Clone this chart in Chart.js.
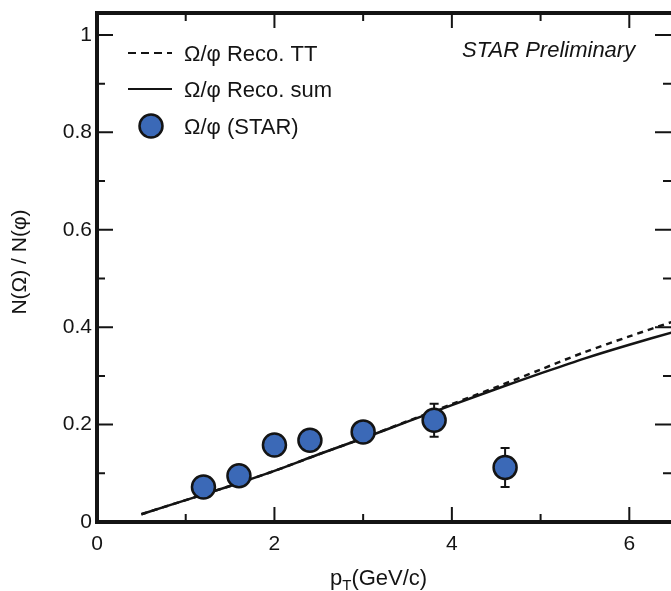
<!DOCTYPE html>
<html>
<head>
<meta charset="utf-8">
<script src="https://cdn.jsdelivr.net/npm/chart.js@4/dist/chart.umd.min.js"></script>
<style>
html,body{margin:0;padding:0;background:#fff;}
#wrap{width:671px;height:591px;}
</style>
</head>
<body>
<div id="wrap"><canvas id="c" width="671" height="591"></canvas></div>
<script>
// ---- data ----
const curveX = [0.5, 1, 1.5, 2, 2.5, 3, 3.5, 4, 4.5, 5, 5.5, 6, 6.5];
const recoSum = [0.016, 0.045, 0.074, 0.105, 0.139, 0.172, 0.206, 0.240, 0.273, 0.305, 0.336, 0.364, 0.390];
const recoTT  = [0.016, 0.045, 0.074, 0.105, 0.139, 0.172, 0.207, 0.242, 0.277, 0.313, 0.349, 0.381, 0.412];
const starX   = [1.2, 1.6, 2.0, 2.4, 3.0, 3.8, 4.6];
const starY   = [0.072, 0.095, 0.158, 0.168, 0.185, 0.209, 0.112];
const starErr = [0.006, 0.006, 0.008, 0.008, 0.008, 0.034, 0.040];
const xTickLabels = [0, 2, 4, 6];
const xMinorTicks = [1, 3, 5];
const yTickLabels = [0, 0.2, 0.4, 0.6, 0.8, 1];
const yMinorTicks = [0.1, 0.3, 0.5, 0.7, 0.9];
const legendLabels = ['\u03A9/\u03C6 Reco. TT', '\u03A9/\u03C6 Reco. sum', '\u03A9/\u03C6 (STAR)'];

const FONT = "'Liberation Sans', Arial, Helvetica, sans-serif";
const BLUE = '#3b69b7';
const INK = '#141414';

const toXY = (xs, ys) => xs.map((x, i) => ({x: x, y: ys[i]}));

const framePlugin = {
  id: 'frame',
  beforeDatasetDraw(chart, args) {
    if (args.index !== 2) return;
    const ctx = chart.ctx, xs = chart.scales.x, ys = chart.scales.y;
    ctx.save();
    ctx.strokeStyle = INK; ctx.lineWidth = 2;
    starX.forEach((x, i) => {
      const px = xs.getPixelForValue(x);
      const t = ys.getPixelForValue(starY[i] + starErr[i]);
      const b = ys.getPixelForValue(starY[i] - starErr[i]);
      ctx.beginPath();
      ctx.moveTo(px, t); ctx.lineTo(px, b);
      ctx.moveTo(px - 4.5, t); ctx.lineTo(px + 4.5, t);
      ctx.moveTo(px - 4.5, b); ctx.lineTo(px + 4.5, b);
      ctx.stroke();
    });
    ctx.restore();
  },
  afterDraw(chart) {
    const ctx = chart.ctx, a = chart.chartArea, xs = chart.scales.x, ys = chart.scales.y;
    ctx.save();
    // frame
    ctx.strokeStyle = INK; ctx.lineWidth = 4;
    ctx.beginPath();
    ctx.moveTo(a.left, a.top); ctx.lineTo(a.right + 3, a.top);
    ctx.moveTo(a.left, a.bottom); ctx.lineTo(a.right + 3, a.bottom);
    ctx.moveTo(a.left, a.top - 2); ctx.lineTo(a.left, a.bottom + 2);
    ctx.moveTo(a.right + 2, a.top - 2); ctx.lineTo(a.right + 2, a.bottom + 2);
    ctx.stroke();
    // inward ticks
    ctx.lineWidth = 2;
    ctx.beginPath();
    const xt = (v, len) => {
      const p = xs.getPixelForValue(v);
      ctx.moveTo(p, a.bottom); ctx.lineTo(p, a.bottom - len);
      ctx.moveTo(p, a.top); ctx.lineTo(p, a.top + len);
    };
    const yt = (v, len) => {
      const p = ys.getPixelForValue(v);
      ctx.moveTo(a.left, p); ctx.lineTo(a.left + len, p);
      ctx.moveTo(a.right, p); ctx.lineTo(a.right - len, p);
    };
    xTickLabels.forEach(v => xt(v, 15));
    xMinorTicks.forEach(v => xt(v, 8));
    yTickLabels.forEach(v => yt(v, 16));
    yMinorTicks.forEach(v => yt(v, 8));
    ctx.stroke();

    // legend
    ctx.fillStyle = INK;
    ctx.font = '22px ' + FONT;
    ctx.textBaseline = 'alphabetic';
    ctx.textAlign = 'left';
    ctx.strokeStyle = INK; ctx.lineWidth = 2;
    ctx.setLineDash([8, 5]);
    ctx.beginPath(); ctx.moveTo(128, 53); ctx.lineTo(172, 53); ctx.stroke();
    ctx.setLineDash([]);
    ctx.beginPath(); ctx.moveTo(128, 89); ctx.lineTo(172, 89); ctx.stroke();
    ctx.lineWidth = 2.5;
    ctx.beginPath(); ctx.arc(151, 126, 11.5, 0, Math.PI * 2);
    ctx.fillStyle = BLUE; ctx.fill(); ctx.stroke();
    ctx.fillStyle = INK;
    ctx.fillText(legendLabels[0], 184, 61);
    ctx.fillText(legendLabels[1], 184, 97);
    ctx.fillText(legendLabels[2], 184, 134);
    ctx.font = 'italic 22px ' + FONT;
    ctx.fillText('STAR Preliminary', 462, 57);

    // x title with subscript
    ctx.font = '22px ' + FONT;
    let x0 = 330; const by = 585;
    ctx.fillText('p', x0, by);
    x0 += ctx.measureText('p').width;
    ctx.font = '15px ' + FONT;
    ctx.fillText('T', x0, by + 5);
    x0 += ctx.measureText('T').width;
    ctx.font = '22px ' + FONT;
    ctx.fillText('(GeV/c)', x0, by);

    // y title
    ctx.save();
    ctx.translate(20, 262);
    ctx.rotate(-Math.PI / 2);
    ctx.font = '21px ' + FONT;
    ctx.textAlign = 'center';
    ctx.textBaseline = 'middle';
    ctx.fillText('N(\u03A9) / N(\u03C6)', 0, 0);
    ctx.restore();
    ctx.restore();
  }
};

new Chart(document.getElementById('c'), {
  type: 'scatter',
  data: {
    datasets: [
      {
        label: legendLabels[0], data: toXY(curveX, recoTT), showLine: true,
        borderColor: INK, borderWidth: 2.5, borderDash: [6, 5], pointRadius: 0,
        tension: 0.3, order: 3
      },
      {
        label: legendLabels[1], data: toXY(curveX, recoSum), showLine: true,
        borderColor: INK, borderWidth: 2.5, pointRadius: 0, tension: 0.3, order: 2
      },
      {
        label: legendLabels[2], data: toXY(starX, starY), showLine: false,
        pointRadius: 11.5, pointBackgroundColor: BLUE, pointBorderColor: INK,
        pointBorderWidth: 2.5, order: 1
      }
    ]
  },
  options: {
    responsive: false,
    devicePixelRatio: 1,
    animation: false,
    layout: {autoPadding: false, padding: {top: 13, right: 0, left: 0, bottom: 0}},
    plugins: {legend: {display: false}, tooltip: {enabled: false}},
    scales: {
      x: {
        type: 'linear', min: 0, max: 6.47,
        afterFit(s) { s.height = 69; s.paddingLeft = 0; s.paddingRight = 0; },
        afterBuildTicks(s) { s.ticks = xTickLabels.map(v => ({value: v})); },
        grid: {display: false, drawTicks: false},
        border: {display: false},
        ticks: {
          padding: 10, color: INK, maxRotation: 0,
          font: {family: FONT, size: 21},
          callback: v => String(v)
        }
      },
      y: {
        type: 'linear', min: 0, max: 1.045,
        afterFit(s) { s.width = 97; s.paddingTop = 0; s.paddingBottom = 0; },
        afterBuildTicks(s) { s.ticks = yTickLabels.map(v => ({value: v})); },
        grid: {display: false, drawTicks: false},
        border: {display: false},
        ticks: {
          padding: 5, color: INK,
          font: {family: FONT, size: 21},
          callback: v => String(v)
        }
      }
    }
  },
  plugins: [framePlugin]
});
</script>
</body>
</html>
